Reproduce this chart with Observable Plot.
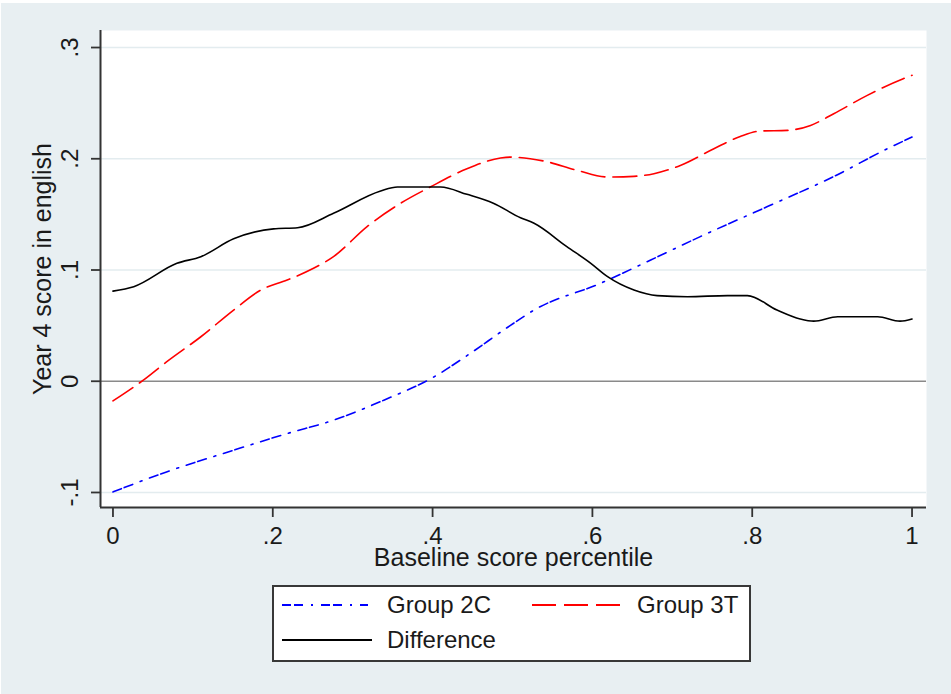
<!DOCTYPE html>
<html><head><meta charset="utf-8">
<script src="https://cdn.jsdelivr.net/npm/d3@7"></script>
<script src="https://cdn.jsdelivr.net/npm/@observablehq/plot@0.6"></script>
<style>
body{margin:0;background:#fff;font-family:"Liberation Sans",Arial,sans-serif;}
#wrap{position:absolute;top:3px;left:1px;width:950px;height:691px;background:#e8eff2;}
#legend{position:absolute;left:271px;top:582px;width:475px;height:73px;border:2px solid #383838;background:#fff;}
#legend svg{display:block;}
</style></head><body><div id="wrap"></div>
<script>
// ---- data ----
const g2cX = [0, .067, .151, .218, .276, .339, .402, .443, .497, .527, .61, .673, .735, .819, .902, .969, 1.0];
const g2cY = [-.0995, -.0815, -.062, -.047, -.035, -.017, .004, .023, .050, .064, .088, .109, .130, .157, .184, .209, .2195];

const g3tX = [0, .038, .067, .11, .151, .185, .218, .251, .276, .318, .36, .397, .443, .485, .497, .539, .581, .619, .652, .677, .71, .752, .785, .81, .844, .873, .902, .944, .989, 1.0];
const g3tY = [-.0177, .001, .0174, .040, .064, .082, .091, .1015, .112, .139, .160, .1746, .191, .2007, .2015, .198, .1896, .1836, .1842, .1866, .194, .209, .220, .2249, .2255, .230, .2405, .257, .272, .275];

const diffX = [0, .026, .08, .11, .151, .201, .231, .276, .335, .356, .41, .443, .476, .51, .527, .568, .598, .619, .652, .681, .719, .769, .794, .831, .86, .877, .907, .957, .985, 1.0];
const diffY = [.081, .085, .106, .112, .128, .137, .138, .151, .171, .1746, .1746, .168, .160, .147, .142, .121, .106, .094, .082, .077, .076, .077, .077, .064, .056, .054, .058, .058, .054, .056];

const seriesNames = ["Group 2C", "Group 3T", "Difference"];
const xTickValues = [0, .2, .4, .6, .8, 1];
const xTickLabels = ["0", ".2", ".4", ".6", ".8", "1"];
const yTickValues = [-.1, 0, .1, .2, .3];
const yTickLabels = ["-.1", "0", ".1", ".2", ".3"];
const xTitle = "Baseline score percentile";
const yTitle = "Year 4 score in english";

// ---- styles ----
const styles = {
  "Group 2C": {stroke: "#0000ff", dash: "9,3,9,8,2,8"},
  "Group 3T": {stroke: "#ff0000", dash: "24,8"},
  "Difference": {stroke: "#000000", dash: null}
};
const xs = [g2cX, g3tX, diffX], ys = [g2cY, g3tY, diffY];
const rows = seriesNames.flatMap((name, k) => xs[k].map((x, i) => ({series: name, x, y: ys[k][i]})));

const xDomain = [-0.0156, 1.0181];
const yDomain = [-0.1135, 0.3153];
const font = "Liberation Sans, Arial, sans-serif";

const chart = Plot.plot({
  width: 950, height: 580,
  marginLeft: 99, marginRight: 25, marginTop: 27, marginBottom: 76,
  style: {background: "transparent", fontFamily: font, fontSize: "24px", color: "#1a1a1a", overflow: "visible"},
  x: {domain: xDomain},
  y: {domain: yDomain},
  marks: [
    Plot.frame({fill: "white", stroke: null}),
    Plot.ruleY(yTickValues.filter(d => d !== 0), {stroke: "#e3ecef", strokeWidth: 1.5}),
    Plot.ruleY([0], {stroke: "#8a8a8a", strokeWidth: 1.5}),
    ...seriesNames.map(name => Plot.line(rows.filter(r => r.series === name), {
      x: "x", y: "y", stroke: styles[name].stroke, strokeWidth: 1.6,
      strokeDasharray: styles[name].dash, curve: "monotone-x"
    })),
    Plot.ruleX([xDomain[0]], {stroke: "#333", strokeWidth: 2}),
    Plot.ruleY([yDomain[0]], {stroke: "#333", strokeWidth: 2}),
    Plot.axisX({ticks: xTickValues, tickFormat: d => xTickLabels[xTickValues.indexOf(d)], tickSize: 10, tickPadding: 9,
      fontSize: 24, label: null, stroke: "#333", strokeWidth: 1.8, fill: "#1a1a1a"}),
    Plot.axisY({ticks: yTickValues, tickFormat: () => "", tickSize: 9, label: null, stroke: "#333", strokeWidth: 1.8}),
    Plot.text(yTickValues, {y: d => d, frameAnchor: "left", dx: -30, rotate: -90, text: d => yTickLabels[yTickValues.indexOf(d)],
      fontSize: 24, textAnchor: "middle", lineAnchor: "middle", fill: "#1a1a1a"}),
    Plot.text([xTitle], {frameAnchor: "bottom", dy: 50, text: d => d, fontSize: 25, textAnchor: "middle", lineAnchor: "middle", fill: "#1a1a1a"}),
    Plot.text([yTitle], {frameAnchor: "left", dx: -58, rotate: -90, text: d => d, fontSize: 25, textAnchor: "middle", lineAnchor: "middle", fill: "#1a1a1a"})
  ]
});
document.getElementById("wrap").appendChild(chart);

// ---- legend ----
const legendItems = [
  {name: "Group 2C", sx: 8, sw: 86, tx: 113, ty: 18},
  {name: "Group 3T", sx: 258, sw: 90, tx: 363, ty: 18},
  {name: "Difference", sx: 8, sw: 90, tx: 113, ty: 53}
];
const lsvg = d3.select("#wrap").append("div").attr("id", "legend")
  .append("svg").attr("width", 475).attr("height", 73);
const g = lsvg.selectAll("g").data(legendItems).join("g");
g.append("line")
  .attr("x1", d => d.sx).attr("x2", d => d.sx + d.sw)
  .attr("y1", d => d.ty).attr("y2", d => d.ty)
  .attr("stroke", d => styles[d.name].stroke).attr("stroke-width", 1.8)
  .attr("stroke-dasharray", d => styles[d.name].dash);
g.append("text")
  .attr("x", d => d.tx).attr("y", d => d.ty).attr("dy", "0.35em")
  .attr("font-family", font).attr("font-size", 24).attr("fill", "#1a1a1a")
  .text(d => d.name);
</script></body></html>
